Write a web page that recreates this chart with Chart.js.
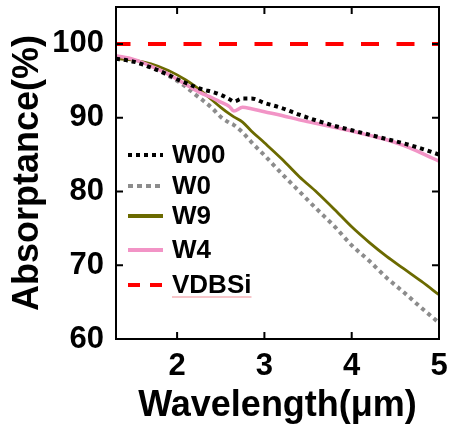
<!DOCTYPE html>
<html>
<head>
<meta charset="utf-8">
<script src="https://cdn.jsdelivr.net/npm/chart.js@4.4.1/dist/chart.umd.min.js"></script>
<style>
  html, body { margin: 0; padding: 0; background: #fff; }
  #wrap { width: 449px; height: 435px; }
</style>
</head>
<body>
<div id="wrap"><canvas id="myChart" width="449" height="435"></canvas></div>
<script>
// wavelength grid (um) shared by the measured curves
var wavelength = [1.3, 1.5, 1.7, 1.9, 2.0, 2.1, 2.2, 2.3, 2.4, 2.5, 2.6, 2.65, 2.75, 2.85,
                  3.0, 3.2, 3.4, 3.6, 3.8, 4.0, 4.2, 4.4, 4.6, 4.8, 5.0];
var w00 = [98.0, 97.6, 96.8, 95.8, 95.2, 94.7, 94.2, 93.8, 93.5, 93.1, 92.5, 92.2, 92.6, 92.6,
           92.0, 91.3, 90.4, 89.6, 88.9, 88.3, 87.7, 87.1, 86.5, 85.8, 85.0];
var w0 = [98.0, 97.6, 96.8, 95.7, 95.0, 94.2, 93.2, 92.3, 91.3, 90.1, 89.3, 89.0, 88.0, 86.7,
          84.9, 82.4, 80.0, 77.6, 75.3, 72.7, 70.6, 68.3, 66.3, 64.2, 62.2];
var w9 = [98.0, 97.8, 97.3, 96.4, 95.8, 95.1, 94.3, 93.4, 92.4, 91.4, 90.5, 90.1, 89.4, 88.2,
          86.6, 84.4, 82.0, 79.9, 77.6, 75.2, 73.1, 71.2, 69.5, 67.8, 66.0];
var w4 = [98.4, 97.9, 97.0, 95.9, 95.2, 94.5, 93.8, 93.2, 92.7, 92.1, 91.5, 90.9, 91.4, 91.2,
          90.8, 90.3, 89.7, 89.2, 88.7, 88.2, 87.6, 87.0, 86.2, 85.2, 84.1];
// reference line
var vdbsiX = [1.3, 5.0];
var vdbsiY = [100, 100];

var xTicks = [2, 3, 4, 5];
var yTicks = [60, 70, 80, 90, 100];

function pts(xs, ys) {
  return xs.map(function (x, i) { return { x: x, y: ys[i] }; });
}

var FONT = '"Liberation Sans", Arial, sans-serif';

// legend rows drawn inside the plot, styled from the datasets
var legendBox = {
  id: 'legendBox',
  afterDraw: function (chart) {
    var c = chart.ctx;
    var rows = [155, 186, 216, 250, 285];
    c.save();
    chart.data.datasets.forEach(function (ds, i) {
      var y = rows[i];
      c.beginPath();
      c.strokeStyle = ds.borderColor;
      c.lineWidth = ds.legendWidth || ds.borderWidth;
      c.setLineDash(ds.legendDash || []);
      c.lineCap = 'butt';
      c.moveTo(128, y);
      c.lineTo(163, y);
      c.stroke();
      c.setLineDash([]);
      c.fillStyle = '#000';
      c.font = 'bold 26px ' + FONT;
      c.textBaseline = 'middle';
      c.textAlign = 'left';
      c.fillText(ds.label, 172, y + 1);
      if (ds.label === 'VDBSi') {
        var w = c.measureText(ds.label).width;
        c.beginPath();
        c.strokeStyle = 'rgba(235,110,120,0.8)';
        c.lineWidth = 1;
        c.moveTo(172, y + 12);
        c.lineTo(172 + w, y + 12);
        c.stroke();
      }
    });
    c.restore();
  }
};

// box frame with inward ticks on all four sides
var frame = {
  id: 'frame',
  afterDatasetsDraw: function (chart) {
    var c = chart.ctx, a = chart.chartArea;
    var xs = chart.scales.x, ys = chart.scales.y;
    c.save();
    c.strokeStyle = '#000';
    c.lineWidth = 2;
    c.strokeRect(a.left, a.top, a.right - a.left, a.bottom - a.top);
    c.beginPath();
    xTicks.forEach(function (v) {
      var px = xs.getPixelForValue(v);
      c.moveTo(px, a.bottom); c.lineTo(px, a.bottom - 7);
      c.moveTo(px, a.top); c.lineTo(px, a.top + 7);
    });
    yTicks.forEach(function (v) {
      var py = ys.getPixelForValue(v);
      c.moveTo(a.left, py); c.lineTo(a.left + 7, py);
      c.moveTo(a.right, py); c.lineTo(a.right - 7, py);
    });
    c.stroke();
    c.restore();
  }
};

var ctx = document.getElementById('myChart').getContext('2d');
var myChart = new Chart(ctx, {
  type: 'line',
  data: {
    datasets: [{
      label: 'W00',
      data: pts(wavelength, w00),
      borderColor: '#000000',
      borderWidth: 4,
      borderDash: [4, 4],
      legendDash: [4, 4],
      order: 1
    }, {
      label: 'W0',
      data: pts(wavelength, w0),
      borderColor: '#8c8c8c',
      borderWidth: 4,
      borderDash: [4, 4],
      legendDash: [5, 4],
      order: 4
    }, {
      label: 'W9',
      data: pts(wavelength, w9),
      borderColor: '#6b6a00',
      borderWidth: 2.8,
      legendWidth: 4,
      legendDash: [],
      order: 3
    }, {
      label: 'W4',
      data: pts(wavelength, w4),
      borderColor: '#f294c6',
      borderWidth: 3.5,
      legendWidth: 4,
      legendDash: [],
      order: 2
    }, {
      label: 'VDBSi',
      data: pts(vdbsiX, vdbsiY),
      borderColor: '#ff0000',
      borderWidth: 4,
      borderDash: [18, 17.5],
      borderDashOffset: 3.5,
      legendDash: [12, 10],
      order: 0
    }]
  },
  options: {
    responsive: false,
    animation: false,
    layout: { padding: { top: 7, right: 10, left: 0, bottom: 0 } },
    elements: {
      point: { radius: 0 },
      line: { cubicInterpolationMode: 'monotone', borderCapStyle: 'butt', fill: false }
    },
    plugins: {
      legend: { display: false },
      tooltip: { enabled: false }
    },
    scales: {
      x: {
        type: 'linear',
        min: 1.3,
        max: 5,
        afterBuildTicks: function (s) { s.ticks = xTicks.map(function (v) { return { value: v }; }); },
        afterFit: function (s) { s.height = 96; s.paddingLeft = 0; s.paddingRight = 0; },
        grid: { display: false, drawTicks: false },
        border: { display: false },
        ticks: { color: '#000', padding: 9, font: { family: FONT, size: 31, weight: 'bold' } },
        title: {
          display: true,
          text: 'Wavelength(\u03bcm)',
          color: '#000',
          padding: { top: 0, bottom: 7 },
          font: { family: FONT, size: 36, weight: 'bold' }
        }
      },
      y: {
        min: 60,
        max: 105,
        afterBuildTicks: function (s) { s.ticks = yTicks.map(function (v) { return { value: v }; }); },
        afterFit: function (s) { s.width = 116; s.paddingTop = 0; s.paddingBottom = 0; },
        grid: { display: false, drawTicks: false },
        border: { display: false },
        ticks: { color: '#000', padding: 12, font: { family: FONT, size: 31, weight: 'bold' } },
        title: {
          display: true,
          text: 'Absorptance(%)',
          color: '#000',
          padding: { top: 6, bottom: 0 },
          font: { family: FONT, size: 36, weight: 'bold' }
        }
      }
    }
  },
  plugins: [frame, legendBox]
});
</script>
</body>
</html>
